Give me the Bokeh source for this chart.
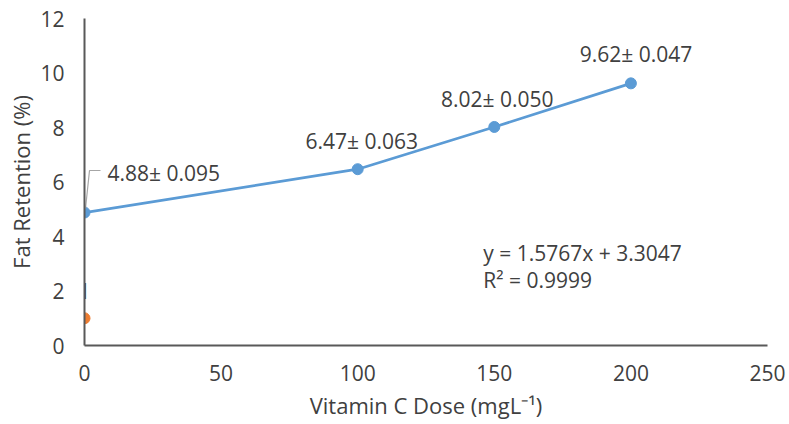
from bokeh.plotting import figure
from bokeh.models import Range1d, Label, FixedTicker, ColumnDataSource
from bokeh.core.properties import value
from bokeh.embed import file_html
from bokeh.resources import INLINE

# ---- data ----
dose = [0, 100, 150, 200]
retention = [4.88, 6.47, 8.02, 9.62]
sd = ["0.095", "0.063", "0.050", "0.047"]
control_dose = [0]
control_retention = [1]
x_ticks = [0, 50, 100, 150, 200, 250]
y_ticks = [0, 2, 4, 6, 8, 10, 12]
trend_eq = "y = 1.5767x + 3.3047"
trend_r2 = "R\u00b2 = 0.9999"

FONT = "Open Sans"
FS = "21px"
TXT = "#404040"
BLUE = "#5B9BD5"
ORANGE = "#ED7D31"

W, H = 789, 424
ML, MR, MT, MB = 84, 22, 18, 79
p = figure(width=W, height=H, output_backend="svg", toolbar_location=None,
           x_range=Range1d(0, 250), y_range=Range1d(0, 12),
           min_border_left=ML, min_border_right=MR, min_border_top=MT, min_border_bottom=MB)
p.outline_line_color = None
p.grid.visible = False
p.background_fill_color = "white"

for ax in (p.xaxis[0], p.yaxis[0]):
    ax.axis_line_color = "#595959"
    ax.axis_line_width = 2
    ax.major_tick_line_color = None
    ax.minor_tick_line_color = None
    ax.major_tick_in = 0
    ax.major_tick_out = 0
    ax.major_label_text_font = FONT
    ax.major_label_text_font_size = FS
    ax.major_label_text_color = TXT
    ax.axis_label_text_font = FONT
    ax.axis_label_text_font_size = "22px"
    ax.axis_label_text_font_style = "normal"
    ax.axis_label_text_color = TXT

p.xaxis.ticker = FixedTicker(ticks=x_ticks)
p.yaxis.ticker = FixedTicker(ticks=y_ticks)
p.xaxis.axis_label = "Vitamin C Dose (mgL\u207b\u00b9)"
p.yaxis.axis_label = "Fat Retention (%)"
p.xaxis.major_label_standoff = 19
p.xaxis.axis_label_standoff = 6
p.yaxis.major_label_standoff = 20
p.yaxis.axis_label_standoff = 1

# series
src = ColumnDataSource(dict(x=dose, y=retention,
                            lab=[f"{r:.2f}\u00b1 {s}" for r, s in zip(retention, sd)]))
p.line("x", "y", source=src, line_color=BLUE, line_width=2.75)
p.scatter("x", "y", source=src, size=11, fill_color=BLUE, line_color=BLUE)

p.scatter(control_dose, control_retention, size=11, fill_color=ORANGE, line_color=ORANGE)
p.text(control_dose, control_retention, text=[str(v) for v in control_retention],
       text_font=value(FONT), text_font_size=FS, text_color=TXT,
       text_align="center", text_baseline="middle", y_offset=-27)

# data labels (points 2..4 centred above)
lab_src = ColumnDataSource(dict(x=dose[1:], y=retention[1:], lab=src.data["lab"][1:],
                                xo=[4, 3, 5], yo=[-28, -28, -29]))
p.text("x", "y", text="lab", source=lab_src, x_offset="xo", y_offset="yo",
       text_font=value(FONT), text_font_size=FS, text_color=TXT,
       text_align="center", text_baseline="middle")

# first label with leader line
fw = W - ML - MR
fh = H - MT - MB
pxx = 250 / fw
pxy = 12 / fh
p.text([dose[0]], [retention[0]], text=[src.data["lab"][0]], x_offset=23, y_offset=-40,
       text_font=value(FONT), text_font_size=FS, text_color=TXT,
       text_align="left", text_baseline="middle")
lx = [dose[0] + 1 * pxx, dose[0] + 5 * pxx, dose[0] + 16 * pxx]
ly = [retention[0] + 4 * pxy, retention[0] + 42 * pxy, retention[0] + 42 * pxy]
p.line(lx, ly, line_color="#A6A6A6", line_width=1.2)

# trendline equation
p.add_layout(Label(x=146, y=3.41, text=trend_eq, text_font=FONT, text_font_size=FS,
                   text_color=TXT, text_baseline="middle", text_align="left"))
p.add_layout(Label(x=146, y=2.39, text=trend_r2, text_font=FONT, text_font_size=FS,
                   text_color=TXT, text_baseline="middle", text_align="left"))

open("out.html", "w").write(file_html(p, INLINE))
